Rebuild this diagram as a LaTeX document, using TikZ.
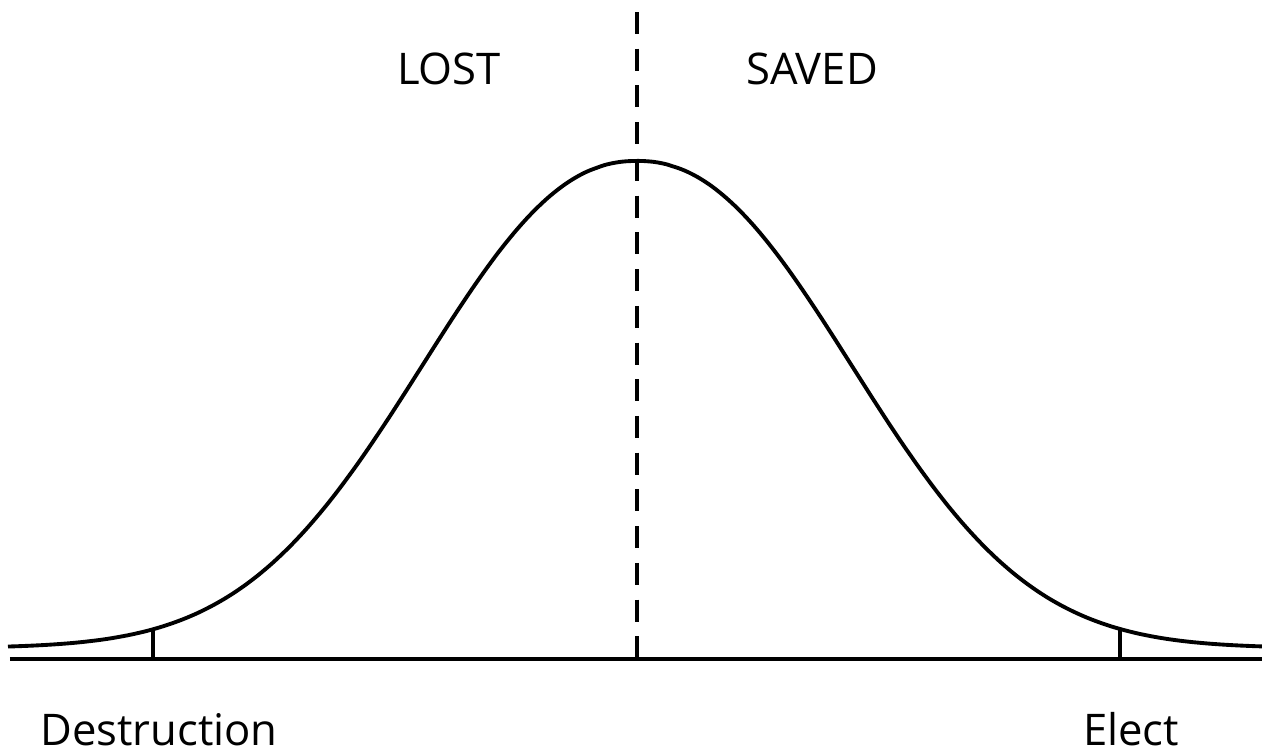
\documentclass[tikz,border=0pt]{standalone}
\usepackage{fontspec}
\setmainfont{Open Sans}
\begin{document}
\begin{tikzpicture}[x=0.01cm, y=-0.01cm, line width=1.1pt,
  lbl/.style={anchor=base, inner sep=0pt, font=\fontsize{12.4}{15}\selectfont}]
\useasboundingbox (0,0) rectangle (1262,753);
\draw (10,659) -- (1262,659);
\draw[domain=8:1262, samples=201, smooth] plot (\x, {648-487*exp(-(abs(\x-637)/283+0.0001)^2.2)});
\draw (153,659) -- (153,629);
\draw (1120,659) -- (1120,630);
\draw[dash pattern=on 0.22cm off 0.147cm] (637,12) -- (637,659);
\node[lbl] (lost) at (449,84) {LOST};
\node[lbl] (saved) at (812,84) {SAVED};
\node[lbl] (destr) at (159,745) {Destruction};
\node[lbl] (elect) at (1131,745) {Elect};
\end{tikzpicture}
\end{document}
